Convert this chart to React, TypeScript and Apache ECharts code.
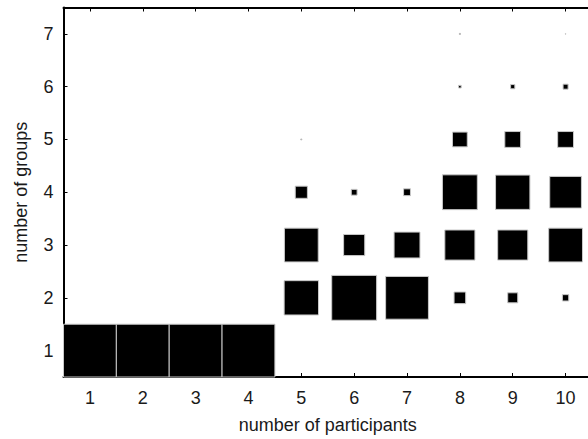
import React, { useEffect, useRef } from "react";
import * as echarts from "echarts";

const participants = ["1", "2", "3", "4", "5", "6", "7", "8", "9", "10"];
const groups = ["1", "2", "3", "4", "5", "6", "7"];

// side length of each square as a fraction of one cell, per number of groups (rows), per participants (columns)
const sideGroups1 = [1, 1, 1, 1, 0, 0, 0, 0, 0, 0];
const sideGroups2 = [0, 0, 0, 0, 0.65, 0.85, 0.81, 0.22, 0.19, 0.12];
const sideGroups3 = [0, 0, 0, 0, 0.64, 0.4, 0.49, 0.57, 0.57, 0.64];
const sideGroups4 = [0, 0, 0, 0, 0.23, 0.11, 0.13, 0.66, 0.65, 0.6];
const sideGroups5 = [0, 0, 0, 0, 0.02, 0, 0, 0.28, 0.3, 0.3];
const sideGroups6 = [0, 0, 0, 0, 0, 0, 0, 0.05, 0.08, 0.095];
const sideGroups7 = [0, 0, 0, 0, 0, 0, 0, 0.02, 0, 0.01];

const rows = [sideGroups1, sideGroups2, sideGroups3, sideGroups4, sideGroups5, sideGroups6, sideGroups7];

const textColor = "#1a1a1a";
const fontFamily = "'Liberation Sans', Arial, sans-serif";

export default function App() {
  const ref = useRef<HTMLDivElement>(null);

  useEffect(() => {
    if (!ref.current) return;
    const chart = echarts.init(ref.current, null, { renderer: "svg" });

    const data: number[][] = [];
    rows.forEach((row, gi) => {
      row.forEach((s, pi) => {
        if (s > 0) data.push([pi, gi, s]);
      });
    });

    const axisLine = { show: true, onZero: false, lineStyle: { color: "#000", width: 2 } };
    const axisTick = { show: true, inside: true, length: 4, alignWithLabel: true, lineStyle: { color: "#000", width: 1 } };

    chart.setOption({
      animation: false,
      backgroundColor: "#fff",
      grid: { left: 63.5, top: 7.5, bottom: 60.5, right: 0, containLabel: false },
      xAxis: [
        {
          type: "category",
          data: participants,
          position: "bottom",
          boundaryGap: true,
          axisLine,
          axisTick,
          axisLabel: { color: textColor, fontSize: 18, fontFamily, margin: 12 },
          splitLine: { show: false },
          name: "number of participants",
          nameLocation: "middle",
          nameGap: 39,
          nameTextStyle: { color: textColor, fontSize: 18, fontFamily },
        },
        {
          type: "category",
          data: participants,
          position: "top",
          boundaryGap: true,
          axisLine,
          axisTick,
          axisLabel: { show: false },
          splitLine: { show: false },
        },
      ],
      yAxis: {
        type: "category",
        data: groups,
        boundaryGap: true,
        axisLine,
        axisTick,
        axisLabel: { color: textColor, fontSize: 18, fontFamily, margin: 10 },
        splitLine: { show: false },
        name: "number of groups",
        nameLocation: "middle",
        nameGap: 34,
        nameTextStyle: { color: textColor, fontSize: 18, fontFamily },
      },
      series: [
        {
          type: "custom",
          xAxisIndex: 0,
          yAxisIndex: 0,
          encode: { x: 0, y: 1 },
          data,
          renderItem: (params: any, api: any) => {
            const c = api.coord([api.value(0), api.value(1)]);
            const size = api.size([1, 1]);
            const s = api.value(2);
            const w = size[0] * s;
            const h = size[1] * s;
            return {
              type: "rect",
              shape: { x: c[0] - w / 2, y: c[1] - h / 2, width: w, height: h },
              style: { fill: "#000", stroke: "#c8c8c8", lineWidth: 1 },
            };
          },
        },
      ],
    });

    return () => chart.dispose();
  }, []);

  return (
    <div
      ref={ref}
      style={{ position: "fixed", left: 0, top: 0, width: 592, height: 439, background: "#fff" }}
    />
  );
}
